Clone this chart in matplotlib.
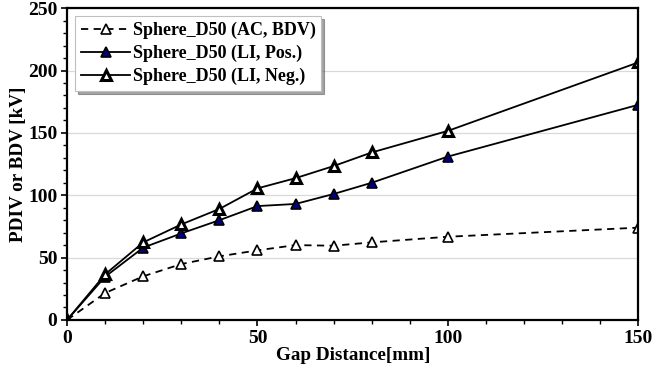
import matplotlib
matplotlib.use('Agg')
import matplotlib.pyplot as plt
from matplotlib.ticker import MultipleLocator

plt.rcParams['font.family'] = ['Liberation Serif', 'DejaVu Serif']
plt.rcParams['font.weight'] = 'bold'

gap = [0, 10, 20, 30, 40, 50, 60, 70, 80, 100, 150]
ac_bdv = [0, 21.6, 35, 44.8, 51, 55.8, 60, 59.5, 62.2, 66.7, 74]
li_pos = [0, 34.7, 58, 69.4, 80, 91.3, 93, 101, 110, 131, 172.5]
li_neg = [0, 36.6, 62.2, 76.6, 89, 105.5, 113.7, 123.4, 134.3, 151.6, 206.5]

fig = plt.figure(figsize=(6.58, 3.72), dpi=100)
ax = fig.add_axes([0.102, 0.140, 0.868, 0.838])

ax.plot(gap, ac_bdv, color='black', lw=1.3, ls=(0, (4, 3)), marker='^', ms=7,
        mfc='white', mec='black', mew=1.2, label='Sphere_D50 (AC, BDV)')
ax.plot(gap, li_pos, color='black', lw=1.3, marker='^', ms=7,
        mfc='#000080', mec='black', mew=1.2, label='Sphere_D50 (LI, Pos.)')
ax.plot(gap, li_neg, color='black', lw=1.3, marker='^', ms=7.5,
        mfc='white', mec='black', mew=2.2, label='Sphere_D50 (LI, Neg.)')

ax.set_xlim(0, 150)
ax.set_ylim(0, 250)
ax.xaxis.set_major_locator(MultipleLocator(50))
ax.xaxis.set_minor_locator(MultipleLocator(10))
ax.yaxis.set_major_locator(MultipleLocator(50))
ax.yaxis.set_minor_locator(MultipleLocator(10))
ax.grid(axis='y', which='major', color='#d9d9d9', lw=0.9)
ax.set_axisbelow(True)
ax.tick_params(which='major', direction='out', length=4, width=1.2, labelsize=14, pad=3)
ax.tick_params(which='minor', direction='out', length=3, width=1.0)
for s in ax.spines.values():
    s.set_linewidth(1.6)
for lab in ax.get_xticklabels() + ax.get_yticklabels():
    lab.set_fontweight('bold')

ax.set_xlabel('Gap Distance[mm]', fontsize=13.8, fontweight='bold', labelpad=0)
ax.set_ylabel('PDIV or BDV [kV]', fontsize=13.8, fontweight='bold', labelpad=1)

leg = ax.legend(loc='upper left', bbox_to_anchor=(0.008, 0.985), fontsize=13,
                frameon=True, fancybox=False, shadow=True, handlelength=2.75,
                borderpad=0.3, labelspacing=0.32, handletextpad=0.15,
                borderaxespad=0.2)
leg.get_frame().set_edgecolor('#bfbfbf')
leg.get_frame().set_linewidth(0.8)

fig.savefig('out.png', dpi=100)
